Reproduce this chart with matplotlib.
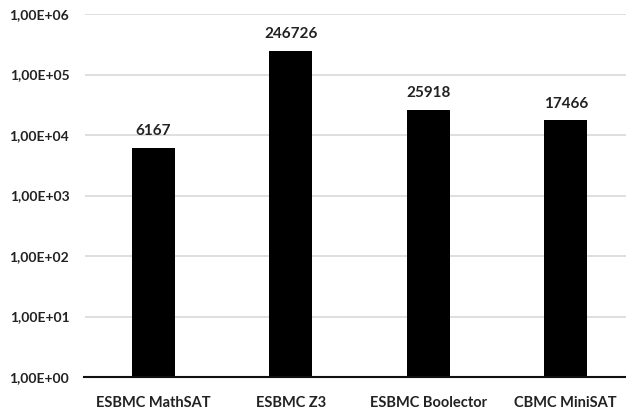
import matplotlib
matplotlib.use("Agg")
import matplotlib.pyplot as plt
from matplotlib.ticker import FixedLocator

categories = ["ESBMC MathSAT", "ESBMC Z3", "ESBMC Boolector", "CBMC MiniSAT"]
values = [6167, 246726, 25918, 17466]
tick_values = [1e0, 1e1, 1e2, 1e3, 1e4, 1e5, 1e6]
tick_labels = ["1,00E+00", "1,00E+01", "1,00E+02", "1,00E+03", "1,00E+04", "1,00E+05", "1,00E+06"]

plt.rcParams['font.family'] = ['Lato', 'DejaVu Sans']

W, H = 626, 409
fig = plt.figure(figsize=(W/100, H/100), dpi=100)
left, right = 84.5, 626
top, bottom = 14, 377
ax = fig.add_axes([left/W, 1 - bottom/H, (right-left)/W, (bottom-top)/H])

x = list(range(len(categories)))
ax.bar(x, values, width=0.31, color="black", zorder=3)
ax.set_yscale("log")
ax.set_ylim(1, 1e6)
ax.set_xlim(-0.5, 3.5 - (634.5-626)/137)

ax.yaxis.set_major_locator(FixedLocator(tick_values))
ax.yaxis.set_minor_locator(FixedLocator([]))
ax.set_yticklabels(tick_labels)
ax.set_xticks(x)
ax.set_xticklabels(categories)

for lab in ax.get_yticklabels():
    lab.set_fontsize(10)
    lab.set_fontweight("bold")
    lab.set_color("#222222")
for lab in ax.get_xticklabels():
    lab.set_fontsize(10.5)
    lab.set_fontweight("bold")
    lab.set_color("#222222")

ax.tick_params(axis="y", length=0, pad=11)
ax.tick_params(axis="x", length=0, pad=14)
ax.grid(axis="y", color="#d9d9d9", linewidth=1.2, zorder=0)
for s in ["top", "right", "left"]:
    ax.spines[s].set_visible(False)
ax.spines["bottom"].set_color("#111111")
ax.spines["bottom"].set_linewidth(1.5)
ax.spines["bottom"].set_zorder(4)

for xi, v in zip(x, values):
    ax.annotate(str(v), (xi, v), xytext=(0, 7), textcoords="offset points",
                ha="center", va="bottom", fontsize=11, fontweight="bold", color="#222222")

fig.savefig("out.png", dpi=100)
